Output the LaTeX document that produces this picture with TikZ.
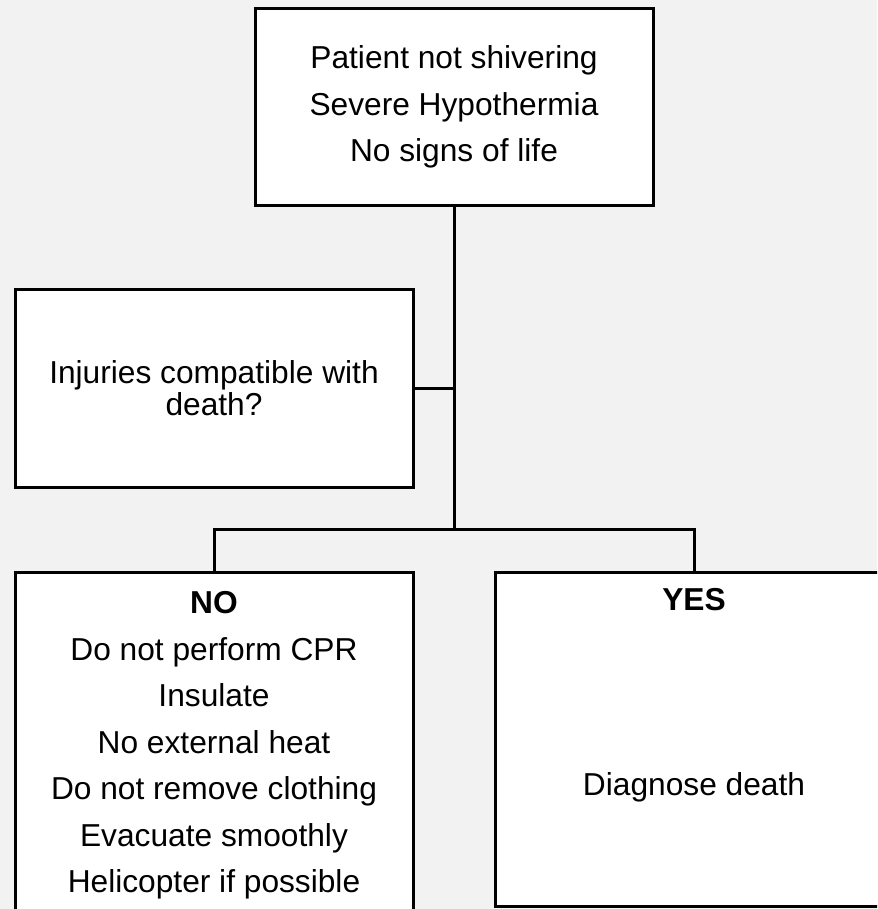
\documentclass[tikz,border=0pt]{standalone}
\usepackage{fontspec}
\setmainfont{Liberation Sans}
\usepackage{tikz}
\usetikzlibrary{calc}
\usepackage{xcolor}
\definecolor{sfondo}{RGB}{242,242,242}
\newcommand{\testo}{\fontsize{31.7}{46.5}\selectfont}

\begin{document}
\begin{tikzpicture}[x = 1pt, y = -1pt,
    riquadro/.style = {draw, line width = 3pt, fill = white, align = center, minimum width = 398pt, inner xsep = 0pt},
    linea/.style = {line width = 3pt}]
    % Parametri
    \pgfmathsetmacro{\tronco}{454}
    \pgfmathsetmacro{\sinistra}{214}
    \pgfmathsetmacro{\destra}{694}
    \pgfmathsetmacro{\basso}{571}
    % Sfondo
    \useasboundingbox (0,0) rectangle (877,909);
    \clip (0,0) rectangle (877,909);
    \fill[sfondo] (0,0) rectangle (877,909);
    % Riquadri
    \node[riquadro, anchor = north, minimum height = 197pt, font = \testo] (paziente) at (\tronco,7) {Patient not shivering\\Severe Hypothermia\\No signs of life};
    \node[riquadro, minimum height = 198pt, font = \fontsize{31.7}{32}\selectfont] (ferite) at (\sinistra,388) {Injuries compatible with\\death?};
    \node[riquadro, anchor = north, inner ysep = 19pt, font = \testo] (no) at (\sinistra,\basso) {\textbf{NO}\\Do not perform CPR\\Insulate\\No external heat\\Do not remove clothing\\Evacuate smoothly\\Helicopter if possible};
    \node[riquadro, anchor = north, inner ysep = 16pt, text depth = 95.5pt, font = \testo] (si) at (\destra,\basso) {\textbf{YES}\\[138pt]Diagnose death};
    % Collegamenti
    \coordinate (bivio) at (\tronco,529);
    \draw[linea] (paziente.south) -- (bivio);
    \draw[linea] (ferite.east) -- (ferite.east -| bivio);
    \draw[linea] (no.north) |- (bivio) -| (si.north);
\end{tikzpicture}
\end{document}
